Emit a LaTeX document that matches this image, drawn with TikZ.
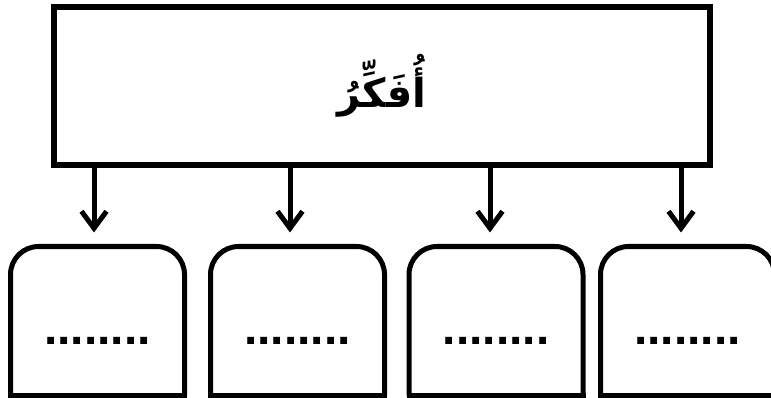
\documentclass[tikz,border=0pt]{standalone}
\usepackage{fontspec}
\setmainfont{Liberation Sans}
\newfontfamily\arabicfont[Script=Arabic]{DejaVu Sans}
\TeXXeTstate=1
\usetikzlibrary{arrows.meta}

\begin{document}
\begin{tikzpicture}[
    x=1pt, y=-1pt,
    thinkbox/.style={draw=black, line width=5.5pt, minimum width=656pt,
                  minimum height=158pt, inner sep=0pt, outer sep=0pt},
    slot/.style={minimum width=174pt, minimum height=149pt, inner sep=0pt, outer sep=0pt},
    slotline/.style={line width=5pt, line join=miter},
    dots/.style={font=\fontsize{48}{48}\selectfont\bfseries, inner sep=0pt},
    flow/.style={line width=5pt, -{Straight Barb[length=17pt, width=25pt]}, shorten >=14pt}
]
    \useasboundingbox (0,0) rectangle (771,398);

    \node[thinkbox] (think) at (382,86) {};
    \node[font=\arabicfont\bfseries\fontsize{40}{40}\selectfont] (word) at (think.center)
        {\beginR أُفَكِّرُ\endR};

    \node[slot] (b1) at (97.5,321) {};
    \node[slot] (b2) at (297.5,321) {};
    \node[slot] (b3) at (496,321) {};
    \node[slot] (b4) at (687.5,321) {};

    \draw[slotline, rounded corners=28pt] (b1.south west) -- (b1.north west) -- (b1.north east) -- (b1.south east);
    \draw[slotline, line cap=rect] (b1.south west) -- (b1.south east);
    \draw[slotline, rounded corners=28pt] (b2.south west) -- (b2.north west) -- (b2.north east) -- (b2.south east);
    \draw[slotline, line cap=rect] (b2.south west) -- (b2.south east);
    \draw[slotline, rounded corners=28pt] (b3.south west) -- (b3.north west) -- (b3.north east) -- (b3.south east);
    \draw[slotline, line cap=rect] (b3.south west) -- (b3.south east);
    \draw[slotline, rounded corners=28pt] (b4.south west) -- (b4.north west) -- (b4.north east) -- (b4.south east);
    \draw[slotline, line cap=rect] (b4.south west) -- (b4.south east);

    \node[dots] (d1) at ([yshift=-20pt]b1.center) {........};
    \node[dots] (d2) at ([yshift=-20pt]b2.center) {........};
    \node[dots] (d3) at ([yshift=-20pt]b3.center) {........};
    \node[dots] (d4) at ([yshift=-20pt]b4.center) {........};

    \draw[flow] ([xshift=-3.5pt]b1.north |- think.south) -- ([xshift=-3.5pt]b1.north);
    \draw[flow] ([xshift=-7.5pt]b2.north |- think.south) -- ([xshift=-7.5pt]b2.north);
    \draw[flow] ([xshift=-6pt]b3.north |- think.south) -- ([xshift=-6pt]b3.north);
    \draw[flow] ([xshift=-6.5pt]b4.north |- think.south) -- ([xshift=-6.5pt]b4.north);
\end{tikzpicture}
\end{document}
